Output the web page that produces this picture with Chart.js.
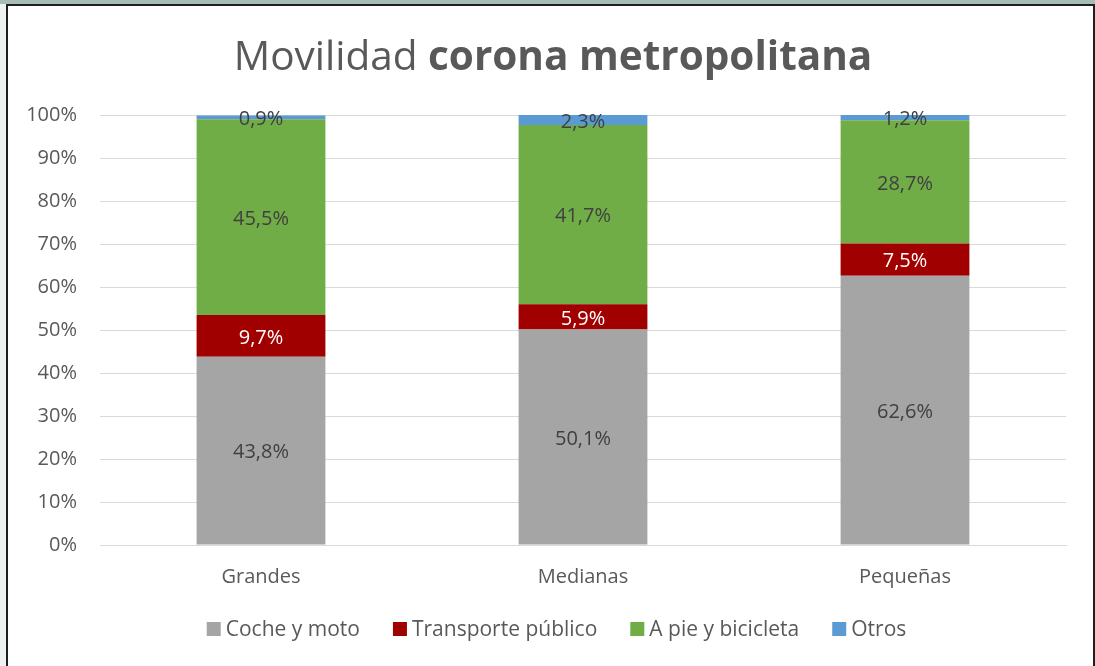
<!DOCTYPE html>
<html>
<head>
<meta charset="utf-8">
<script src="https://cdn.jsdelivr.net/npm/chart.js@4.4.1/dist/chart.umd.min.js"></script>
<style>
    html, body {
        margin: 0;
        padding: 0;
        width: 1095px;
        height: 666px;
        overflow: hidden;
        background: #eef3f2;
    }
    .frame {
        position: absolute;
        left: 6px;
        top: 4px;
        width: 1085px;
        height: 662px;
        background: #ffffff;
        border: 2px solid #1f1f1a;
        border-bottom: none;
    }
    .strip {
        position: absolute;
        left: 0;
        top: 0;
        width: 1095px;
        height: 4px;
        background: #a7bcb7;
    }
    canvas {
        display: block;
    }
</style>
</head>
<body>
<div class="strip"></div>
<div class="frame">
    <canvas id="movilidadChart" width="1085" height="662"></canvas>
</div>
<script>
// Chart data
const categories = ['Grandes', 'Medianas', 'Pequeñas'];
const seriesNames = ['Coche y moto', 'Transporte público', 'A pie y bicicleta', 'Otros'];
const cocheMoto = [43.8, 50.1, 62.6];
const transportePublico = [9.7, 5.9, 7.5];
const apieBicicleta = [45.5, 41.7, 28.7];
const otros = [0.9, 2.3, 1.2];
const yTicks = [0, 10, 20, 30, 40, 50, 60, 70, 80, 90, 100];

const FONT = '"Open Sans", "Noto Sans", sans-serif';
const TEXT_COLOR = '#595959';

Chart.defaults.font.family = FONT;
Chart.defaults.color = TEXT_COLOR;

// Title with mixed weights
const titlePlugin = {
    id: 'mixedTitle',
    afterDraw(chart) {
        const ctx = chart.ctx;
        const normal = 'Movilidad ';
        const bold = 'corona metropolitana';
        ctx.save();
        ctx.textBaseline = 'middle';
        ctx.fillStyle = TEXT_COLOR;
        ctx.font = '40.5px ' + FONT;
        const w1 = ctx.measureText(normal).width;
        ctx.font = 'bold 40.5px ' + FONT;
        const w2 = ctx.measureText(bold).width;
        const x0 = 545 - (w1 + w2) / 2;
        ctx.font = '40.5px ' + FONT;
        ctx.textAlign = 'left';
        ctx.fillText(normal, x0, 52);
        ctx.font = 'bold 40.5px ' + FONT;
        ctx.fillText(bold, x0 + w1, 52);
        ctx.restore();
    }
};

// Legend drawn under the axis
const legendPlugin = {
    id: 'bottomLegend',
    afterDraw(chart) {
        const ctx = chart.ctx;
        const box = 14, textGap = 5, itemGap = 33;
        ctx.save();
        ctx.font = '21px ' + FONT;
        ctx.textBaseline = 'middle';
        ctx.textAlign = 'left';
        const items = chart.data.datasets.map(ds => ({
            text: ds.label,
            color: ds.backgroundColor,
            w: box + textGap + ctx.measureText(ds.label).width
        }));
        const total = items.reduce((s, it) => s + it.w, 0) + itemGap * (items.length - 1);
        let x = chart.width / 2 + 6 - total / 2;
        const y = 623;
        items.forEach(it => {
            ctx.fillStyle = it.color;
            ctx.fillRect(x, y - box / 2, box, box);
            ctx.fillStyle = TEXT_COLOR;
            ctx.fillText(it.text, x + box + textGap, y + 1);
            x += it.w + itemGap;
        });
        ctx.restore();
    }
};

// Value labels centred in every segment
const valueLabels = {
    id: 'valueLabels',
    afterDatasetsDraw(chart) {
        const ctx = chart.ctx;
        ctx.save();
        ctx.font = '20px ' + FONT;
        ctx.textAlign = 'center';
        ctx.textBaseline = 'middle';
        chart.data.datasets.forEach((ds, i) => {
            const meta = chart.getDatasetMeta(i);
            meta.data.forEach((bar, j) => {
                const v = ds.data[j];
                ctx.fillStyle = ds.labelColor;
                ctx.fillText(v.toFixed(1).replace('.', ',') + '%', bar.x, (bar.y + bar.base) / 2 + 2);
            });
        });
        ctx.restore();
    }
};

const ctx = document.getElementById('movilidadChart');
new Chart(ctx, {
    type: 'bar',
    data: {
        labels: categories,
        datasets: [
            { label: seriesNames[0], data: cocheMoto, backgroundColor: '#a5a5a5', labelColor: '#404040' },
            { label: seriesNames[1], data: transportePublico, backgroundColor: '#a00000', labelColor: '#ffffff' },
            { label: seriesNames[2], data: apieBicicleta, backgroundColor: '#70ad47', labelColor: '#404040' },
            { label: seriesNames[3], data: otros, backgroundColor: '#5b9bd5', labelColor: '#404040' }
        ]
    },
    options: {
        responsive: false,
        animation: false,
        layout: {
            padding: { top: 109, left: 0, right: 27, bottom: 79 }
        },
        datasets: {
            bar: {
                categoryPercentage: 0.4,
                barPercentage: 1,
                borderWidth: 0
            }
        },
        plugins: {
            legend: { display: false },
            tooltip: { enabled: false }
        },
        scales: {
            x: {
                stacked: true,
                grid: { display: false, drawTicks: false },
                border: { color: '#d9d9d9', width: 1 },
                afterFit(scale) { scale.height = 44; },
                ticks: { padding: 20, font: { size: 20 }, color: TEXT_COLOR }
            },
            y: {
                stacked: true,
                min: 0,
                max: 100,
                afterFit(scale) { scale.width = 92; },
                afterBuildTicks(scale) { scale.ticks = yTicks.map(v => ({ value: v })); },
                grid: { color: '#d9d9d9', drawTicks: false },
                border: { display: false },
                ticks: {
                    padding: 23,
                    font: { size: 20 },
                    color: TEXT_COLOR,
                    callback: v => v + '%'
                }
            }
        }
    },
    plugins: [titlePlugin, valueLabels, legendPlugin]
});
</script>
</body>
</html>
